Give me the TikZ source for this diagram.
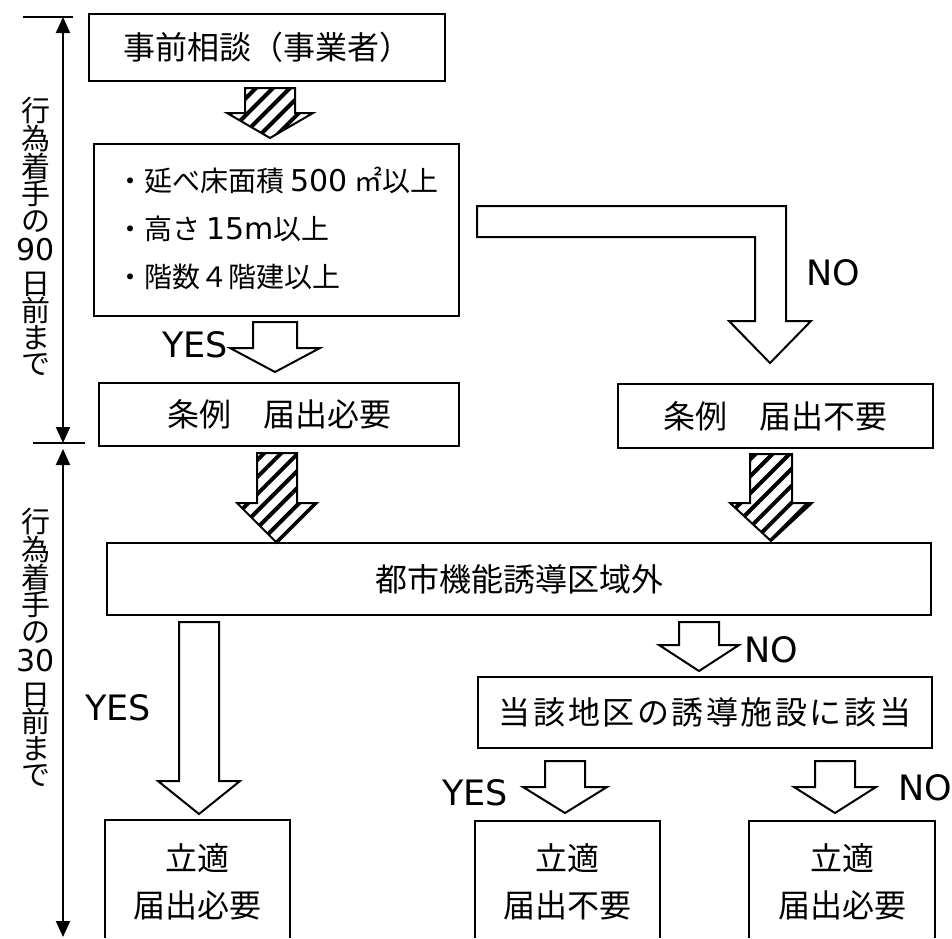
\documentclass[tikz,border=0pt]{standalone}
\usepackage{fontspec}
\setmainfont{Noto Sans CJK JP}
\newfontfamily\lat{DejaVu Sans}
\newfontfamily\jpwide{Noto Sans CJK JP}[LetterSpace=8]
\usetikzlibrary{arrows.meta,patterns.meta}
\newcommand{\fs}[1]{\fontsize{#1}{#1}\selectfont}
\newcommand{\latn}[2]{{\lat\fs{#1}#2}}
% block arrow: [style]{cx}{ytop}{yhead}{ytip}{shaft half}{head half}
\newcommand{\barrow}[7][]{\draw[arrowshape,#1] ({#2-#6},#3) -- ({#2+#6},#3) -- ({#2+#6},#4) -- ({#2+#7},#4) -- (#2,#5) -- ({#2-#7},#4) -- ({#2-#6},#4) -- cycle;}
\begin{document}
\begin{tikzpicture}[x=1pt,y=-1pt,
  box/.style={draw,line width=2pt,inner sep=0pt,anchor=north west},
  frame/.style={draw,line width=2pt},
  txt/.style={inner sep=0pt,font=\fs{32}},
  ctxt/.style={inner sep=0pt,font=\fs{28},anchor=west},
  vlab/.style={inner sep=0pt,align=center,font=\fontsize{29}{26.5}\selectfont},
  lab/.style={inner sep=0pt,font=\lat\fs{35}},
  arrowshape/.style={draw,line width=2pt,fill=white,line join=miter},
  hatch/.style={pattern={Lines[angle=45,distance=12pt,line width=4pt]}},
  tline/.style={line width=2pt},
  tl/.tip={Triangle[width=14pt,length=16pt]}
]
\useasboundingbox (0,0) rectangle (952,938);

% timeline
\coordinate (t1) at (63,17);
\coordinate (t2) at (63,443);
\coordinate (t3) at (63,449);
\coordinate (t4) at (63,937);
\coordinate (k1a) at (23,17);
\coordinate (k1b) at (73,17);
\coordinate (k2a) at (33,443);
\coordinate (k2b) at (85,443);
\draw[tline,{tl}-{tl}] (t1) -- (t2);
\draw[tline,{tl}-{tl}] (t3) -- (t4);
\draw[tline] (k1a) -- (k1b);
\draw[tline] (k2a) -- (k2b);
\node[vlab] (v1) at (36,236.5) {行\\為\\着\\手\\の\\[3pt]\latn{30}{90}\\[7pt]日\\前\\ま\\で};
\node[vlab] (v2) at (36,647.5) {行\\為\\着\\手\\の\\[3pt]\latn{30}{30}\\[7pt]日\\前\\ま\\で};

% boxes
\node[box,minimum width=356pt,minimum height=67pt] (consult) at (88,13) {};
\node[txt] (consultT) at (consult.center) {事前相談（事業者）};

\node[box,minimum width=365pt,minimum height=172pt] (crit) at (93,143) {};
\node[ctxt] (c1) at (116,180) {・延べ床面積 \latn{30}{500} ㎡以上};
\node[ctxt] (c2) at (116,229) {・高さ \latn{30}{15m}以上};
\node[ctxt] (c3) at (116,277) {・階数４階建以上};

\node[box,minimum width=360pt,minimum height=63pt] (req) at (98,382) {};
\node[txt] (reqT) at (req.center) {条例　届出必要};

\node[box,minimum width=315pt,minimum height=64pt] (noreq) at (617,383) {};
\node[txt] (noreqT) at (noreq.center) {条例　届出不要};

\node[box,minimum width=824pt,minimum height=72pt] (outside) at (106,542) {};
\node[txt] (outsideT) at (outside.center) {都市機能誘導区域外};

\node[box,minimum width=454pt,minimum height=71pt] (facility) at (477,676) {};
\node[txt,font=\jpwide\fs{32}] (facilityT) at (facility.center) {当該地区の誘導施設に該当};

% bottom open frames (cut by page edge)
\draw[frame] (105,938) -- (105,820) -- (290,820) -- (290,938);
\draw[frame] (475,938) -- (475,821) -- (660,821) -- (660,938);
\draw[frame] (749,938) -- (749,821) -- (935,821) -- (935,938);
\node[txt] (r1a) at (197.5,858) {立適};
\node[txt] (r1b) at (197.5,905) {届出必要};
\node[txt] (r2a) at (567.5,858) {立適};
\node[txt] (r2b) at (567.5,905) {届出不要};
\node[txt] (r3a) at (842,858) {立適};
\node[txt] (r3b) at (842,905) {届出必要};

% block arrows
\barrow[hatch]{270}{88}{113}{138}{25}{43}
\barrow[hatch]{277}{453}{503}{543}{20}{40}
\barrow[hatch]{771}{454}{503}{541}{21}{41}
\barrow{275}{322}{348}{372}{22}{45}
\barrow{199}{622}{781}{814}{20}{41}
\barrow{699}{622}{645}{671}{20}{40}
\barrow{565}{761}{787}{813}{20}{42}
\barrow{835}{761}{787}{813}{20}{41}
\draw[arrowshape] (477,206) -- (786,206) -- (786,321) -- (811,321) -- (770,363) -- (729,321) -- (755,321) -- (755,237) -- (477,237) -- cycle;

% labels
\node[lab] (yes1) at (195,345) {YES};
\node[lab] (no1) at (833,273) {NO};
\node[lab] (yes2) at (118,708) {YES};
\node[lab] (no2) at (771,650) {NO};
\node[lab] (yes3) at (475,793) {YES};
\node[lab] (no3) at (925,788) {NO};
\end{tikzpicture}
\end{document}
